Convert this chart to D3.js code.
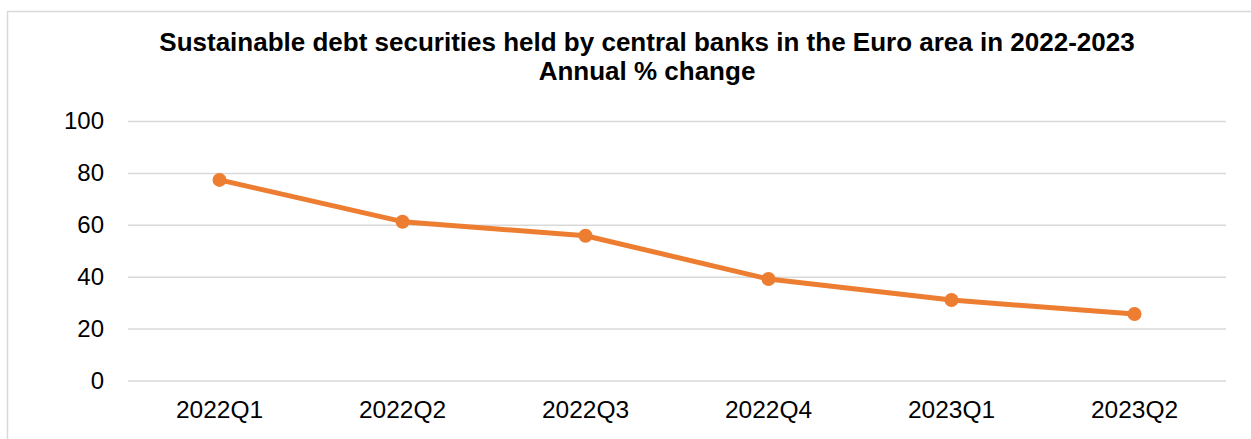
<!DOCTYPE html>
<html>
<head>
<meta charset="utf-8">
<script src="https://cdn.jsdelivr.net/npm/d3@7"></script>
<style>
  html, body { margin: 0; padding: 0; background: #fff; }
  svg { display: block; font-family: "Liberation Sans", Arial, sans-serif; }
</style>
</head>
<body>
<svg id="chart" width="1251" height="439"></svg>
<script>
// Quarterly annual % change of sustainable debt securities held by Euro area central banks
const quarters = ["2022Q1", "2022Q2", "2022Q3", "2022Q4", "2023Q1", "2023Q2"];
const annualChange = [77.3, 61.2, 55.8, 39.1, 31.0, 25.6];
const yTicks = [0, 20, 40, 60, 80, 100];
const titleLines = [
  "Sustainable debt securities held by central banks in the Euro area in 2022-2023",
  "Annual % change"
];

const svg = d3.select("#chart");
const plot = { left: 128, right: 1226, top: 121, bottom: 380.5 };

// chart area frame
svg.append("rect")
  .attr("x", 7.5).attr("y", 11.5)
  .attr("width", 1400).attr("height", 600)
  .attr("fill", "#fff")
  .attr("stroke", "#D9D9D9")
  .attr("stroke-width", 1.5);

// title
svg.append("g")
  .selectAll("text")
  .data(titleLines)
  .join("text")
  .attr("x", 647)
  .attr("y", (d, i) => 51 + i * 29)
  .attr("text-anchor", "middle")
  .attr("font-weight", "bold")
  .attr("font-size", 26)
  .attr("fill", "#000")
  .text(d => d);

const x = d3.scaleBand()
  .domain(quarters)
  .range([plot.left, plot.right]);

const y = d3.scaleLinear()
  .domain([0, 100])
  .range([plot.bottom, plot.top]);

// horizontal gridlines with value labels
const yAxis = d3.axisLeft(y)
  .tickValues(yTicks)
  .tickSize(-(plot.right - plot.left))
  .tickPadding(24);

const gy = svg.append("g")
  .attr("transform", `translate(${plot.left},0)`)
  .call(yAxis);
gy.select(".domain").remove();
gy.selectAll(".tick line")
  .attr("stroke", "#D9D9D9")
  .attr("stroke-width", 1.5);
gy.selectAll(".tick text")
  .attr("font-size", 24)
  .attr("font-family", "Liberation Sans, Arial, sans-serif")
  .attr("fill", "#000");

// category axis
const xAxis = d3.axisBottom(x).tickSize(0).tickPadding(20);
const gx = svg.append("g")
  .attr("transform", `translate(0,${plot.bottom})`)
  .call(xAxis);
gx.select(".domain").remove();
gx.selectAll(".tick text")
  .attr("font-size", 24.5)
  .attr("font-family", "Liberation Sans, Arial, sans-serif")
  .attr("fill", "#000");

const cx = d => x(d) + x.bandwidth() / 2;
const series = quarters.map((q, i) => ({ q, v: annualChange[i] }));

// series line
svg.append("path")
  .datum(series)
  .attr("fill", "none")
  .attr("stroke", "#ED7D31")
  .attr("stroke-width", 5)
  .attr("stroke-linejoin", "round")
  .attr("stroke-linecap", "round")
  .attr("d", d3.line().x(d => cx(d.q)).y(d => y(d.v)));

// markers
svg.append("g")
  .selectAll("circle")
  .data(series)
  .join("circle")
  .attr("cx", d => cx(d.q))
  .attr("cy", d => y(d.v))
  .attr("r", 7)
  .attr("fill", "#ED7D31");
</script>
</body>
</html>
